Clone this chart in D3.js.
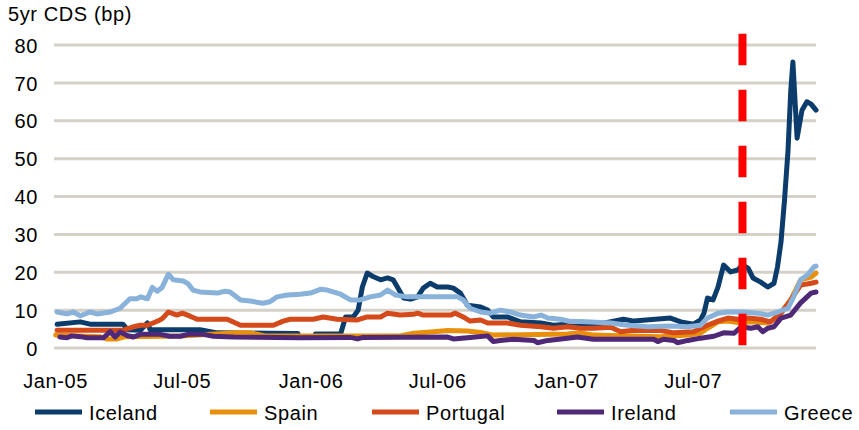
<!DOCTYPE html>
<html>
<head>
<meta charset="utf-8">
<script src="https://cdn.jsdelivr.net/npm/d3@7"></script>
<style>
  body { margin: 0; background: #fff; }
  text { font-family: "Liberation Sans", Arial, sans-serif; fill: #000; }
</style>
</head>
<body>
<div id="chart"></div>
<script>
// 5yr CDS spreads (bp)

var seriesNames = ["Iceland", "Spain", "Portugal", "Ireland", "Greece"];
var seriesColors = ["#0b3c6c", "#e8900c", "#d54a1b", "#4f2878", "#88b2da"];

var iceland = [
  ["2005-01-04", 6.3], ["2005-02-06", 6.9], ["2005-02-20", 6.3], ["2005-04-08", 6.3],
  ["2005-04-15", 4.8], ["2005-05-03", 4.7], ["2005-05-13", 6.6], ["2005-05-17", 4.8],
  ["2005-07-27", 4.8], ["2005-08-21", 4.0], ["2005-11-04", 3.9], ["2005-12-14", 3.8],
  ["2005-12-20", null],
  ["2006-01-08", 3.7], ["2006-02-13", 3.7], ["2006-02-20", 8.2], ["2006-03-03", 8.2],
  ["2006-03-10", 10], ["2006-03-16", 16.1], ["2006-03-23", 19.8], ["2006-04-01", 18.8],
  ["2006-04-11", 18], ["2006-04-21", 18.5], ["2006-04-29", 18], ["2006-05-05", 16.1],
  ["2006-05-14", 13.2], ["2006-05-24", 12.9], ["2006-06-03", 13.5], ["2006-06-11", 15.8],
  ["2006-06-21", 17.1], ["2006-07-01", 16.1], ["2006-07-16", 16.1], ["2006-07-24", 15.8],
  ["2006-08-03", 14.5], ["2006-08-13", 11.3], ["2006-09-01", 10.8], ["2006-09-11", 10],
  ["2006-09-19", 8.2], ["2006-10-09", 8.2], ["2006-10-28", 6.9], ["2006-11-26", 6.6],
  ["2006-12-14", 6.0], ["2007-01-03", 6.3], ["2007-01-22", 6.0], ["2007-02-09", 6.0],
  ["2007-03-24", 7.6], ["2007-04-08", 7.1], ["2007-05-30", 7.9], ["2007-06-14", 6.9],
  ["2007-07-02", 6.3], ["2007-07-12", 7.4], ["2007-07-17", 9.2], ["2007-07-22", 13.2],
  ["2007-07-30", 12.7], ["2007-08-06", 16.1], ["2007-08-14", 21.9], ["2007-08-24", 20.1],
  ["2007-09-03", 20.6], ["2007-09-10", 21.9], ["2007-09-18", 21.1], ["2007-09-25", 18.5],
  ["2007-10-06", 17.4], ["2007-10-16", 16.1], ["2007-10-25", 17.1], ["2007-10-30", 21.4],
  ["2007-11-04", 28], ["2007-11-09", 39], ["2007-11-14", 52], ["2007-11-18", 68],
  ["2007-11-21", 75.5], ["2007-11-27", 55.4], ["2007-12-04", 62.8], ["2007-12-11", 65],
  ["2007-12-17", 64.4], ["2007-12-24", 62.8]
];

var spain = [
  ["2005-01-02", 3.4], ["2005-02-06", 3.2], ["2005-03-06", 3.0], ["2005-03-16", 2.4],
  ["2005-03-31", 2.4], ["2005-04-11", 3.0], ["2005-06-29", 3.2], ["2005-09-18", 4.0],
  ["2005-10-07", 4.0], ["2005-10-28", 3.2], ["2006-01-05", 3.2], ["2006-05-09", 3.2],
  ["2006-05-28", 3.9], ["2006-06-26", 4.3], ["2006-07-16", 4.6], ["2006-08-13", 4.5],
  ["2006-09-01", 4.1], ["2006-09-19", 3.4], ["2007-01-03", 3.7], ["2007-01-22", 4.0],
  ["2007-02-09", 3.4], ["2007-03-30", 3.2], ["2007-05-16", 3.0], ["2007-06-24", 3.4],
  ["2007-07-12", 3.9], ["2007-07-22", 5.2], ["2007-08-06", 6.9], ["2007-08-20", 7.1],
  ["2007-09-08", 6.6], ["2007-09-22", 6.9], ["2007-10-16", 6.6], ["2007-10-30", 8.2],
  ["2007-11-18", 12.7], ["2007-12-02", 18], ["2007-12-17", 18.7], ["2007-12-24", 19.8]
];

var portugal = [
  ["2005-01-04", 4.7], ["2005-04-08", 4.7], ["2005-04-23", 5.6], ["2005-05-03", 6.0],
  ["2005-05-13", 6.0], ["2005-05-21", 6.6], ["2005-05-31", 7.4], ["2005-06-04", 7.9],
  ["2005-06-12", 9.5], ["2005-06-24", 8.7], ["2005-07-02", 9.2], ["2005-07-13", 8.4],
  ["2005-07-23", 7.6], ["2005-09-04", 7.6], ["2005-09-23", 6.0], ["2005-11-09", 6.0],
  ["2005-11-23", 7.1], ["2005-12-03", 7.6], ["2006-01-05", 7.6], ["2006-01-19", 8.2],
  ["2006-02-08", 7.6], ["2006-03-09", 7.4], ["2006-03-23", 8.2], ["2006-04-11", 8.2],
  ["2006-04-21", 9.2], ["2006-05-09", 8.7], ["2006-05-28", 8.9], ["2006-06-03", 9.2],
  ["2006-06-11", 8.7], ["2006-07-20", 8.7], ["2006-07-27", 9.2], ["2006-08-07", 8.2],
  ["2006-08-17", 7.1], ["2006-09-01", 7.4], ["2006-09-11", 6.6], ["2006-10-09", 6.6],
  ["2006-10-28", 6.0], ["2006-11-26", 5.6], ["2006-12-14", 5.2], ["2007-01-03", 5.6],
  ["2007-01-22", 5.2], ["2007-02-09", 5.2], ["2007-03-06", 5.5], ["2007-03-20", 4.3],
  ["2007-04-08", 4.7], ["2007-05-16", 4.6], ["2007-06-04", 4.0], ["2007-07-02", 4.3],
  ["2007-07-22", 6.0], ["2007-08-06", 7.1], ["2007-08-20", 7.9], ["2007-09-03", 7.6],
  ["2007-09-18", 7.9], ["2007-10-06", 7.6], ["2007-10-20", 6.9], ["2007-11-04", 9.2],
  ["2007-11-18", 12.7], ["2007-12-02", 16.6], ["2007-12-17", 17.1], ["2007-12-24", 17.4]
];

var ireland = [
  ["2005-01-08", 2.9], ["2005-01-18", 2.7], ["2005-01-25", 3.2], ["2005-02-06", 3.0],
  ["2005-02-16", 2.7], ["2005-03-11", 2.7], ["2005-03-21", 4.3], ["2005-03-28", 2.9],
  ["2005-04-04", 4.2], ["2005-04-14", 3.3], ["2005-04-23", 2.9], ["2005-05-03", 3.6],
  ["2005-05-31", 3.6], ["2005-06-14", 3.1], ["2005-06-29", 3.1], ["2005-07-10", 3.6],
  ["2005-08-01", 3.6], ["2005-08-15", 3.1], ["2005-09-13", 2.9], ["2005-12-17", 2.7],
  ["2006-02-27", 2.8], ["2006-03-09", 2.4], ["2006-03-17", 2.8], ["2006-07-16", 2.9],
  ["2006-07-24", 2.4], ["2006-08-17", 2.8], ["2006-09-11", 3.2], ["2006-09-19", 1.7],
  ["2006-09-29", 2.0], ["2006-10-18", 2.3], ["2006-11-16", 2.0], ["2006-11-21", 1.4],
  ["2006-12-06", 2.0], ["2007-01-03", 2.6], ["2007-01-17", 2.9], ["2007-02-09", 2.3],
  ["2007-05-06", 2.3], ["2007-05-12", 1.7], ["2007-05-20", 2.3], ["2007-06-04", 2.0],
  ["2007-06-09", 1.4], ["2007-06-24", 2.0], ["2007-07-12", 2.6], ["2007-07-31", 3.1],
  ["2007-08-14", 4.0], ["2007-08-29", 3.9], ["2007-09-08", 5.6], ["2007-09-22", 5.2],
  ["2007-10-02", 5.6], ["2007-10-09", 4.3], ["2007-10-16", 5.2], ["2007-10-25", 5.6],
  ["2007-11-04", 7.9], ["2007-11-18", 8.7], ["2007-12-02", 11.9], ["2007-12-17", 14.5],
  ["2007-12-24", 14.8]
];

var greece = [
  ["2005-01-04", 9.5], ["2005-01-18", 9.0], ["2005-01-27", 9.5], ["2005-02-06", 8.5],
  ["2005-02-20", 9.5], ["2005-03-02", 9.0], ["2005-03-21", 9.5], ["2005-04-04", 10.5],
  ["2005-04-18", 13], ["2005-04-28", 13], ["2005-05-03", 13.5], ["2005-05-13", 13],
  ["2005-05-20", 16], ["2005-05-27", 15], ["2005-06-03", 16], ["2005-06-12", 19.5],
  ["2005-06-19", 18], ["2005-07-03", 17.7], ["2005-07-10", 17], ["2005-07-17", 15.3],
  ["2005-07-27", 14.8], ["2005-08-21", 14.5], ["2005-09-01", 15], ["2005-09-08", 14.8],
  ["2005-09-23", 12.7], ["2005-10-07", 12.4], ["2005-10-25", 11.8], ["2005-11-04", 12.2],
  ["2005-11-14", 13.5], ["2005-11-29", 14], ["2005-12-17", 14.2], ["2006-01-01", 14.5],
  ["2006-01-15", 15.5], ["2006-01-25", 15.3], ["2006-02-13", 14.2], ["2006-02-27", 12.7],
  ["2006-03-13", 12.7], ["2006-03-27", 13.5], ["2006-04-11", 14], ["2006-04-21", 15.3],
  ["2006-05-02", 14], ["2006-05-19", 13.5], ["2006-06-21", 13.5], ["2006-07-30", 13.5],
  ["2006-08-07", 12.7], ["2006-08-17", 10.5], ["2006-09-01", 9.5], ["2006-09-15", 9.2],
  ["2006-09-29", 10], ["2006-10-14", 9.5], ["2006-10-28", 8.7], ["2006-11-16", 8.2],
  ["2006-11-26", 8.7], ["2006-12-06", 7.9], ["2006-12-24", 7.6], ["2007-01-07", 7.0],
  ["2007-01-22", 7.0], ["2007-03-06", 6.6], ["2007-03-30", 6.0], ["2007-04-28", 5.6],
  ["2007-05-30", 5.8], ["2007-06-24", 5.6], ["2007-07-12", 6.0], ["2007-07-22", 7.9],
  ["2007-08-06", 9.2], ["2007-08-20", 9.5], ["2007-09-10", 9.5], ["2007-10-02", 9.2],
  ["2007-10-16", 8.7], ["2007-10-30", 9.5], ["2007-11-14", 10.5], ["2007-11-22", 13.5],
  ["2007-12-02", 18], ["2007-12-12", 19.3], ["2007-12-21", 21.4], ["2007-12-24", 21.6]
];

var xStart = "2005-01-01", xEnd = "2007-12-24";
var xTickDates = ["2005-01-01", "2005-07-01", "2006-01-01", "2006-07-01", "2007-01-01", "2007-07-01"];
var yTicks = [0, 10, 20, 30, 40, 50, 60, 70, 80];
var markerDate = "2007-09-10";   // red dashed line
var markerRange = [0.5, 83];

var width = 859,
    height = 430;

var parse = d3.timeParse("%Y-%m-%d");

var svg = d3.select("#chart").append("svg")
    .attr("width", width)
    .attr("height", height);

var x = d3.scaleTime()
    .domain([parse(xStart), parse(xEnd)])
    .range([55, 816]);

var y = d3.scaleLinear()
    .domain([0, 80])
    .range([348, 45]);

// gridlines
svg.append("g").selectAll("line")
    .data(yTicks)
    .enter().append("line")
    .attr("x1", 54).attr("x2", 816)
    .attr("y1", d => y(d)).attr("y2", d => y(d))
    .attr("stroke", "#d5d1c8")
    .attr("stroke-width", 3);

// y axis labels
var yAxis = svg.append("g")
    .attr("transform", "translate(38,0)")
    .call(d3.axisLeft(y).tickValues(yTicks).tickSize(0).tickPadding(0));
yAxis.select(".domain").remove();
yAxis.selectAll("text")
    .attr("dy", "0.36em")
    .style("font-family", "'Liberation Sans', Arial, sans-serif")
    .style("font-size", "20px")
    .style("letter-spacing", "0.6px");

// x axis labels
var xAxis = svg.append("g")
    .attr("transform", "translate(0,373)")
    .call(d3.axisBottom(x).tickValues(xTickDates.map(parse))
          .tickFormat(d3.timeFormat("%b-%y")).tickSize(0).tickPadding(0));
xAxis.select(".domain").remove();
xAxis.selectAll("text")
    .attr("dy", "0.75em")
    .style("font-family", "'Liberation Sans', Arial, sans-serif")
    .style("font-size", "20px")
    .style("letter-spacing", "0.6px");

// title
svg.append("text")
    .attr("x", 8).attr("y", 21)
    .style("font-size", "20px")
    .style("letter-spacing", "0.6px")
    .text("5yr CDS (bp)");

// lines
var allSeries = [iceland, spain, portugal, ireland, greece];

var line = d3.line()
    .defined(d => d[1] !== null)
    .x(d => x(parse(d[0])))
    .y(d => y(d[1]))
    .curve(d3.curveLinear);

svg.append("g").selectAll("path")
    .data(allSeries)
    .enter().append("path")
    .attr("fill", "none")
    .attr("stroke", (d, i) => seriesColors[i])
    .attr("stroke-width", 5)
    .attr("stroke-linejoin", "round")
    .attr("stroke-linecap", "round")
    .attr("d", line);

// marker
svg.append("line")
    .attr("x1", x(parse(markerDate))).attr("x2", x(parse(markerDate)))
    .attr("y1", y(markerRange[1])).attr("y2", y(markerRange[0]))
    .attr("stroke", "#ff0000")
    .attr("stroke-width", 8)
    .attr("stroke-dasharray", "31.5,24.5");

// legend
var legendX = [35, 210, 372, 557, 730];
var legend = svg.append("g").selectAll("g")
    .data(seriesNames)
    .enter().append("g")
    .attr("transform", (d, i) => "translate(" + legendX[i] + ",412)");

legend.append("line")
    .attr("x1", 0).attr("x2", 47)
    .attr("stroke", (d, i) => seriesColors[i])
    .attr("stroke-width", 5);

legend.append("text")
    .attr("x", 54).attr("y", 8)
    .style("font-size", "20px")
    .style("letter-spacing", "0.6px")
    .text(d => d);
</script>
</body>
</html>
